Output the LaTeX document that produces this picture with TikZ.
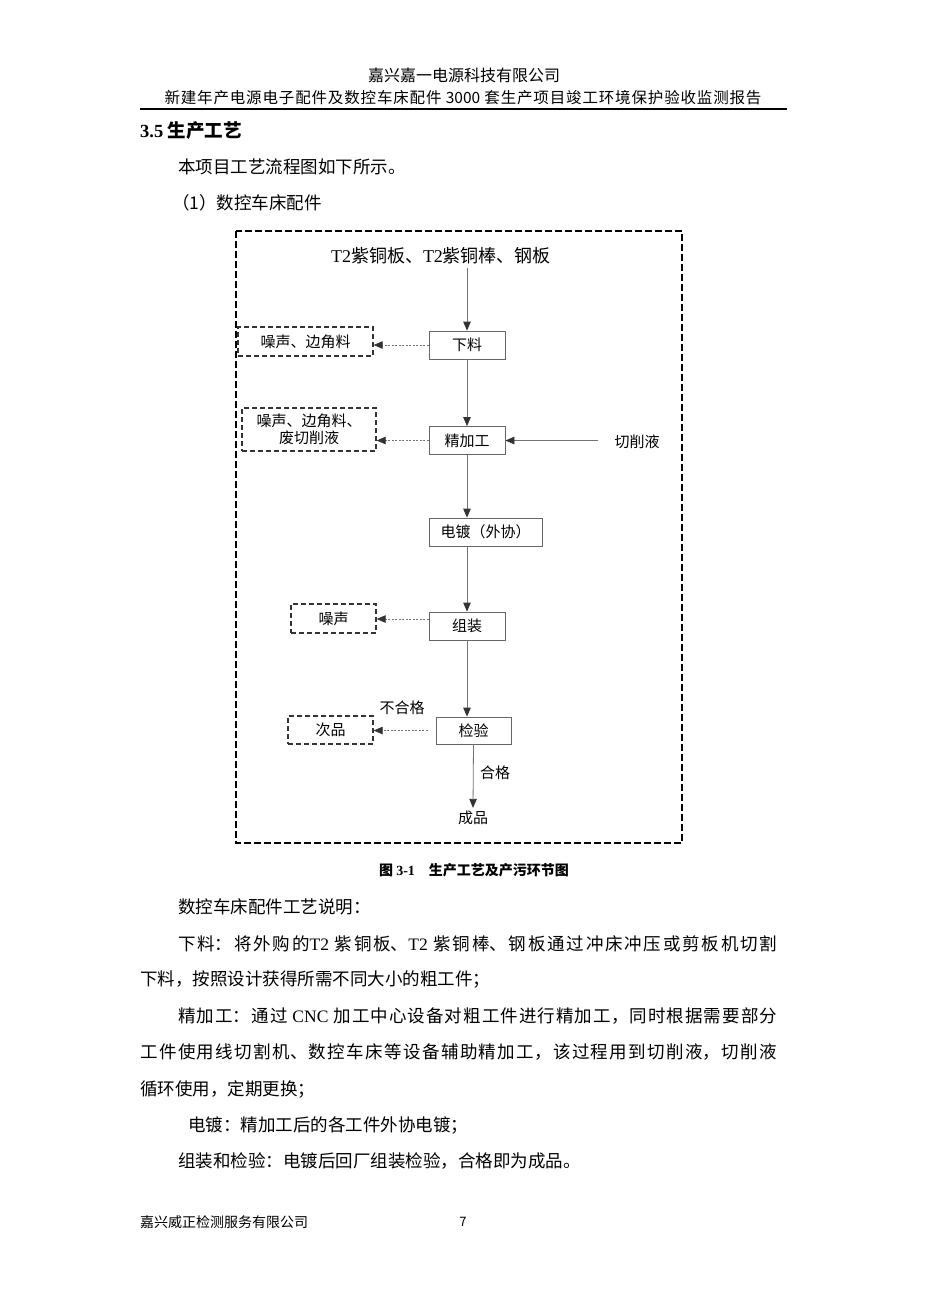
\documentclass[tikz,border=0pt]{standalone}
\usepackage{fontspec}
\setmainfont{Noto Sans CJK SC}
\newfontfamily\lat{Liberation Serif}
\XeTeXlinebreaklocale "zh"
\XeTeXlinebreakskip=0pt plus 2pt
\usetikzlibrary{arrows.meta}
\newcommand\jline[2]{\parbox{#1}{\parfillskip=0pt\relax #2\par}}
\tikzset{
  txt/.style={inner sep=0pt, font=\fontsize{17.5}{20}\selectfont},
  proc/.style={draw=black!60, line width=0.8pt, minimum height=28pt, inner sep=0pt, font=\fontsize{15}{18}\selectfont},
  pol/.style={draw=black!80, dash pattern=on 5pt off 3pt, line width=1.3pt, inner sep=0pt, font=\fontsize{15}{18}\selectfont, align=center},
  arr/.style={draw=black!55, line width=0.8pt, -{Triangle[length=9pt,width=7.5pt,color=black!80]}},
  sarr/.style={draw=black!55, dash pattern=on 2pt off 1.5pt, line width=0.8pt, -{Triangle[length=9pt,width=7.5pt,color=black!80]}},
  lab/.style={inner sep=0pt, font=\fontsize{15}{18}\selectfont},
  frame/.style={draw=black, line width=2.2pt, dash pattern=on 7pt off 3pt}
}
\begin{document}
\begin{tikzpicture}[x=1pt,y=-1pt]
\useasboundingbox (0,0) rectangle (927,1310);
\fill[white] (0,0) rectangle (927,1310);
% header
\node[txt, font=\fontsize{16}{18}\selectfont] (h1) at (464,75) {嘉兴嘉一电源科技有限公司};
\node[txt, font=\fontsize{15.5}{18}\selectfont] (h2) at (463,98) {\jline{597pt}{新建年产电源电子配件及数控车床配件 3000 套生产项目竣工环境保护验收监测报告}};
\draw[line width=1.8pt] (140,109) -- (787,109);
\node[txt, anchor=west, font=\fontsize{18.5}{21}\selectfont\bfseries] (sec) at (140,131) {{\lat 3.5 }生产工艺};
\node[txt, anchor=west] (p1) at (178,167) {本项目工艺流程图如下所示。};
\node[txt, anchor=west] (p2) at (172,203) {（1）数控车床配件};
% frame
\draw[frame] (236,231) rectangle (682,843);
% diagram
\node[inner sep=0pt, font=\fontsize{18}{21}\selectfont] (src) at (441,256) {{\lat T2}紫铜板、{\lat T2}紫铜棒、钢板};
\node[proc, minimum width=76pt] (xl) at (467,345) {下料};
\node[pol, minimum width=135pt, minimum height=29pt] (n1) at (305.5,341.5) {噪声、边角料};
\node[proc, minimum width=76pt] (jjg) at (467,440.5) {精加工};
\node[pol, minimum width=134pt, minimum height=43pt, font=\fontsize{15}{17}\selectfont] (n2) at (309,429.5) {噪声、边角料、\\废切削液};
\node[lab] (cq) at (637,442) {切削液};
\node[proc, minimum width=113pt] (dd) at (485.5,532) {电镀（外协）};
\node[proc, minimum width=76pt] (zz) at (467,626) {组装};
\node[pol, minimum width=85pt, minimum height=29pt] (n3) at (333.5,618.5) {噪声};
\node[proc, minimum width=75pt, minimum height=27pt] (jy) at (473.5,730.5) {检验};
\node[pol, minimum width=85pt, minimum height=28pt] (n4) at (330.5,730) {次品};
\node[lab] (bhg) at (402,708) {不合格};
\node[lab] (hg) at (495,773) {合格};
\node[lab] (cp) at (473,818) {成品};
% connectors
\draw[arr] ([yshift=-3pt]src.south -| xl.north) -- (xl.north);
\draw[sarr] (xl.west) -- (xl.west -| n1.east);
\draw[arr] (xl.south) -- (jjg.north);
\draw[sarr] (jjg.west) -- (jjg.west -| n2.east);
\draw[arr] ([xshift=-16pt]cq.west |- jjg.east) -- (jjg.east);
\draw[arr] (jjg.south) -- (jjg.south |- dd.north);
\draw[arr] (dd.south -| zz.north) -- (zz.north);
\draw[sarr] ([yshift=7pt]zz.west) -- ([yshift=7pt]zz.west -| n3.east);
\draw[arr] (zz.south) -- (zz.south |- jy.north);
\draw[sarr] ([xshift=-8pt]jy.west) -- (jy.west -| n4.east);
\draw[arr] (jy.south) -- ([yshift=3pt]cp.north);
% caption
\node[txt, font=\fontsize{14}{17}\selectfont\bfseries] (cap) at (474,870) {图 {\lat 3-1}\quad 生产工艺及产污环节图};
% body
\node[txt, anchor=west] (b1) at (178,907) {数控车床配件工艺说明：};
\node[txt, anchor=west] (b2) at (178,944) {\jline{599pt}{下料：将外购的{\lat T2} 紫铜板、{\lat T2} 紫铜棒、钢板通过冲床冲压或剪板机切割}};
\node[txt, anchor=west] (b3) at (140,980) {下料，按照设计获得所需不同大小的粗工件；};
\node[txt, anchor=west] (b4) at (178,1016) {\jline{599pt}{精加工：通过 {\lat CNC} 加工中心设备对粗工件进行精加工，同时根据需要部分}};
\node[txt, anchor=west] (b5) at (140,1052) {\jline{637pt}{工件使用线切割机、数控车床等设备辅助精加工，该过程用到切削液，切削液}};
\node[txt, anchor=west] (b6) at (140,1089) {循环使用，定期更换；};
\node[txt, anchor=west] (b7) at (188,1125) {电镀：精加工后的各工件外协电镀；};
\node[txt, anchor=west] (b8) at (178,1161) {组装和检验：电镀后回厂组装检验，合格即为成品。};
% footer
\node[txt, anchor=west, font=\fontsize{14}{16}\selectfont] (f1) at (140,1222) {嘉兴威正检测服务有限公司};
\node[txt, font=\fontsize{13}{15}\selectfont] (f2) at (463,1222) {7};
\end{tikzpicture}
\end{document}
